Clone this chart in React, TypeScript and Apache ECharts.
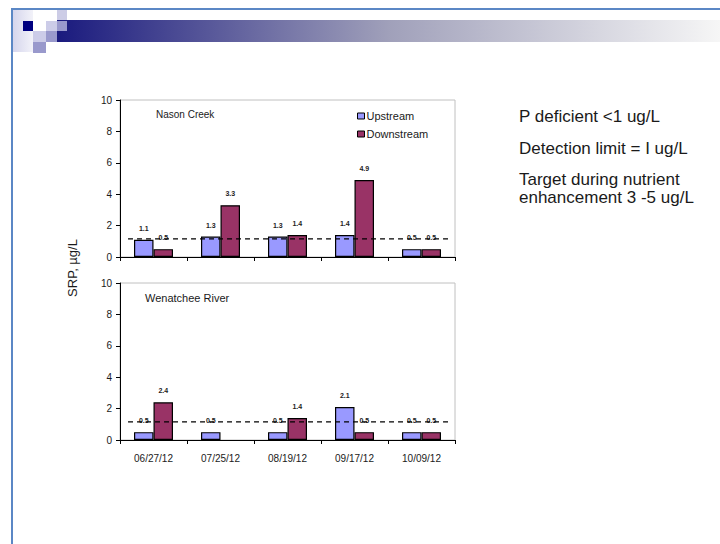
import React, { useEffect, useRef } from "react";
import * as echarts from "echarts";

const dates = ["06/27/12", "07/25/12", "08/19/12", "09/17/12", "10/09/12"];
const nasonUp = [1.1, 1.3, 1.3, 1.4, 0.5];
const nasonDown = [0.5, 3.3, 1.4, 4.9, 0.5];
const wenUp = [0.5, 0.5, 0.5, 2.1, 0.5];
const wenDown: (number | null)[] = [2.4, null, 1.4, 0.5, 0.5];
const detectionLevel = 1.15;
const yTicks = { min: 0, max: 10, interval: 2 };
const notes = [
  "P deficient <1 ug/L",
  "Detection limit = I ug/L",
  "Target during nutrient\nenhancement 3 -5 ug/L",
];

const UP = "#9999FF";
const DOWN = "#993366";
const FONT = "'Liberation Sans', Arial, sans-serif";

export default function App() {
  const ref = useRef<HTMLDivElement>(null);
  useEffect(() => {
    if (!ref.current) return;
    const chart = echarts.init(ref.current, null, { renderer: "svg" });
    const grids = [
      { left: 120, top: 100, width: 335, height: 157 },
      { left: 120, top: 283, width: 335, height: 157 },
    ];
    const barLabel = {
      show: true,
      position: "top",
      distance: 8,
      fontSize: 7,
      color: "#222",
      fontFamily: FONT,
      fontWeight: "bold",
    };
    const barSeries = (name: string, data: any[], g: number, color: string) => ({
      type: "bar",
      name,
      xAxisIndex: g,
      yAxisIndex: g,
      data,
      barWidth: 19.5,
      barGap: "0%",
      itemStyle: { color, borderColor: "#000", borderWidth: 1.2 },
      label: barLabel,
    });
    const dashSeries = (g: number) => ({
      type: "line",
      xAxisIndex: g + 2,
      yAxisIndex: g,
      data: [
        [0.12, detectionLevel],
        [4.93, detectionLevel],
      ],
      symbol: "none",
      silent: true,
      lineStyle: { color: "#000", width: 1.2, type: [5, 4] },
      z: 5,
    });
    const catAxis = (g: number, showLabel: boolean) => ({
      type: "category",
      gridIndex: g,
      data: dates,
      axisLine: { lineStyle: { color: "#000", width: 1 } },
      axisTick: { show: true, length: 4, lineStyle: { color: "#000" } },
      axisLabel: {
        show: showLabel,
        fontSize: 10,
        color: "#1a1a1a",
        margin: 13,
        fontFamily: FONT,
      },
    });
    const valAxis = (g: number) => ({
      type: "value",
      gridIndex: g,
      ...yTicks,
      axisLine: { show: true, lineStyle: { color: "#000", width: 1 } },
      axisTick: { show: true, length: 4, lineStyle: { color: "#000" } },
      axisLabel: { fontSize: 10, color: "#1a1a1a", margin: 8, fontFamily: FONT },
      splitLine: { show: false },
    });
    const hiddenX = (g: number) => ({
      type: "value",
      gridIndex: g,
      min: 0,
      max: 5,
      show: false,
    });

    const squares: [number, number, number, number, string][] = [
      [23, 21, 10, 10, "#000080"],
      [57, 10, 10, 10, "#CCCCE6"],
      [46, 21, 11, 10, "#CCCCE8"],
      [57, 21, 10, 10, "#9999CC"],
      [33, 31, 13, 11, "#CCCCE8"],
      [46, 31, 11, 11, "#9999CC"],
      [33, 42, 13, 11, "#9999CC"],
    ];

    const noteY = [116, 148, 188];

    chart.setOption({
      animation: false,
      backgroundColor: "#fff",
      textStyle: { fontFamily: FONT },
      grid: grids.map((g) => ({
        ...g,
        show: true,
        borderColor: "#c0c0c0",
        borderWidth: 1,
        backgroundColor: "transparent",
      })),
      title: [
        {
          text: "Nason Creek",
          left: 151,
          top: 104,
          textStyle: { fontSize: 10, fontWeight: "normal", color: "#1a1a1a", fontFamily: FONT },
        },
        {
          text: "Wenatchee River",
          left: 140,
          top: 287,
          textStyle: { fontSize: 11, fontWeight: "normal", color: "#1a1a1a", fontFamily: FONT },
        },
      ],
      legend: {
        data: ["Upstream", "Downstream"],
        orient: "vertical",
        left: 352,
        top: 105,
        itemWidth: 7,
        itemHeight: 6,
        itemGap: 6,
        icon: "rect",
        itemStyle: { borderColor: "#000", borderWidth: 1 },
        textStyle: { fontSize: 11, color: "#1a1a1a", padding: [0, 0, 0, -3], fontFamily: FONT, lineHeight: 12 },
      },
      xAxis: [catAxis(0, false), catAxis(1, true), hiddenX(0), hiddenX(1)],
      yAxis: [valAxis(0), valAxis(1)],
      series: [
        barSeries("Upstream", nasonUp, 0, UP),
        barSeries("Downstream", nasonDown, 0, DOWN),
        barSeries("Upstream", wenUp, 1, UP),
        barSeries("Downstream", wenDown, 1, DOWN),
        dashSeries(0),
        dashSeries(1),
      ],
      graphic: [
        {
          type: "rect",
          shape: { x: 57, y: 20, width: 663, height: 22 },
          style: {
            fill: new echarts.graphic.LinearGradient(0, 0, 1, 0, [
              { offset: 0, color: "#1a1a7e" },
              { offset: 0.5, color: "#a0a0ba" },
              { offset: 1, color: "#f6f6f6" },
            ]),
          },
          silent: true,
        },
        {
          type: "rect",
          shape: { x: 12, y: 10, width: 21, height: 42 },
          style: {
            fill: new echarts.graphic.LinearGradient(0, 0, 1, 0, [
              { offset: 0, color: "#d4d4ec" },
              { offset: 1, color: "#f2f2f9" },
            ]),
          },
          silent: true,
        },
        ...squares.map(([x, y, w, h, c]) => ({
          type: "rect",
          shape: { x, y, width: w, height: h },
          style: { fill: c },
          silent: true,
        })),
        {
          type: "line",
          shape: { x1: 11, y1: 9, x2: 720, y2: 9 },
          style: { stroke: "#5b87c5", lineWidth: 2 },
          silent: true,
        },
        {
          type: "line",
          shape: { x1: 12, y1: 8, x2: 12, y2: 544 },
          style: { stroke: "#5b87c5", lineWidth: 2 },
          silent: true,
        },
        {
          type: "text",
          x: 72,
          y: 268,
          rotation: Math.PI / 2,
          style: {
            text: "SRP, µg/L",
            fontSize: 13,
            fill: "#1a1a1a",
            fontFamily: FONT,
            align: "center",
            verticalAlign: "middle",
          },
          silent: true,
        },
        ...notes.map((t, i) => ({
          type: "text",
          x: 519,
          y: noteY[i],
          style: {
            text: t,
            fontSize: 17,
            lineHeight: 18,
            fill: "#1a1a1a",
            fontFamily: FONT,
            align: "left",
            verticalAlign: "middle",
          },
          silent: true,
        })),
      ],
    });
    return () => chart.dispose();
  }, []);
  return (
    <div
      ref={ref}
      style={{ position: "fixed", left: 0, top: 0, width: 720, height: 544 }}
    />
  );
}
